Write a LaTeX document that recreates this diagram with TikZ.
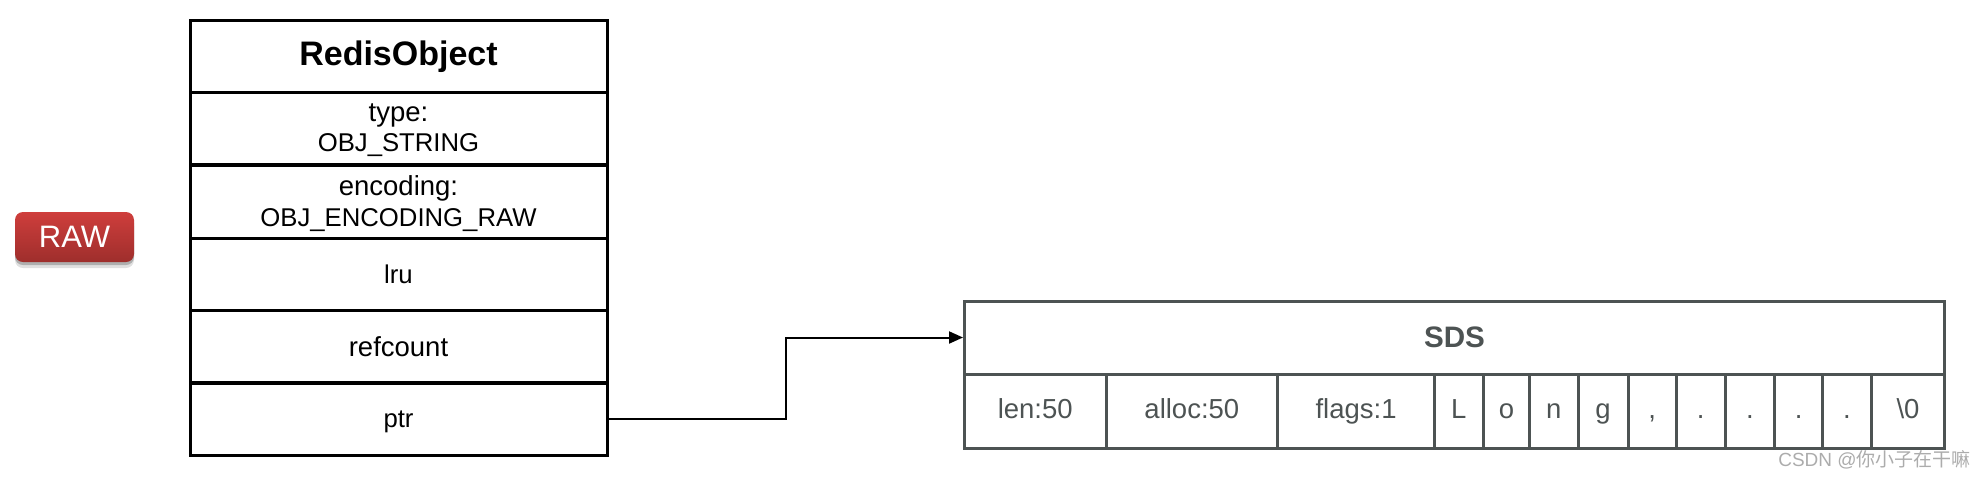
\documentclass[tikz,border=0pt]{standalone}
\usepackage{fontspec}
\setmainfont{Liberation Sans}
\newfontfamily\cjk{Noto Sans CJK SC}
\usetikzlibrary{arrows.meta,shadows}
\definecolor{sdscol}   {RGB}{77,83,83}
\definecolor{rawtopcol}{RGB}{207,62,60}
\definecolor{rawbotcol}{RGB}{158,46,44}
\definecolor{wmarkcol} {RGB}{172,172,172}
\newcommand{\lowfont}{\fontsize{27.5}{30.5}\selectfont}
\tikzset{
    rowbox/.style={draw=black, line width=3pt, minimum width=417pt, minimum height=72.6pt,
        inner sep=0pt, align=center, font=\fontsize{25.7}{30.5}\selectfont},
    cellbox/.style={draw=sdscol, line width=3pt, minimum height=74pt, inner sep=0pt,
        text=sdscol, text height=21pt, text depth=7pt, font=\fontsize{27.5}{30}\selectfont},
}

\begin{document}
\begin{tikzpicture}[x=1pt, y=-1pt]

\useasboundingbox (0,0) rectangle (1984,480);

% Encoding badge
\node[rounded corners=8pt, top color=rawtopcol, bottom color=rawbotcol, text=white,
    minimum width=119pt, minimum height=50pt, inner sep=0pt,
    font=\fontsize{31}{36}\selectfont,
    drop shadow={shadow xshift=0pt, shadow yshift=-6pt, opacity=0.12, fill=black},
    drop shadow={shadow xshift=0pt, shadow yshift=-3pt, opacity=0.22, fill=black}]
    (raw) at (74.5,237) {RAW};

% ================================================================
% REDISOBJECT --- left column
% ================================================================
\node[rowbox, font=\fontsize{34}{40}\selectfont\bfseries] (robjtitle) at (398.5,56.3) {RedisObject};
\node[rowbox, text depth=2pt] (robjtype) at (398.5,128.6) {{\lowfont type:}\\OBJ\_STRING};
\node[rowbox, text depth=2pt] (robjenc) at (398.5,201.8) {{\lowfont encoding:}\\OBJ\_ENCODING\_RAW};
\node[rowbox] (robjlru) at (398.5,274.3) {lru};
\node[rowbox, font=\lowfont] (robjref) at (398.5,346.3) {refcount};
\node[rowbox, text depth=0pt] (robjptr) at (398.5,419.3) {ptr};

% ================================================================
% SDS --- lower right
% ================================================================
\node[draw=sdscol, line width=3pt, minimum width=980pt, minimum height=73pt, inner sep=0pt,
    text=sdscol, font=\fontsize{29.6}{34}\selectfont\bfseries] (sdstitle) at (1454.5,337.5) {SDS};

\node[cellbox, minimum width=141.5pt] (sdslen) at (1035.25,411) {len:50};
\node[cellbox, minimum width=171.7pt] (sdsalloc) at (1191.85,411) {alloc:50};
\node[cellbox, minimum width=156.8pt] (sdsflags) at (1356.1,411) {flags:1};
\node[cellbox, minimum width=48.7pt] (sdsL) at (1458.85,411) {L};
\node[cellbox, minimum width=46.5pt] (sdso) at (1506.45,411) {o};
\node[cellbox, minimum width=48.3pt] (sdsn) at (1553.85,411) {n};
\node[cellbox, minimum width=50pt] (sdsg) at (1603,411) {g};
\node[cellbox, minimum width=48.5pt] (sdscomma) at (1652.25,411) {,};
\node[cellbox, minimum width=48.5pt] (sdsdota) at (1700.75,411) {.};
\node[cellbox, minimum width=49.7pt] (sdsdotb) at (1749.85,411) {.};
\node[cellbox, minimum width=47.8pt] (sdsdotc) at (1798.6,411) {.};
\node[cellbox, minimum width=48.9pt] (sdsdotd) at (1846.95,411) {.};
\node[cellbox, minimum width=73.1pt] (sdsnul) at (1907.95,411) {\textbackslash 0};

% Pointer
\coordinate (ptrbend) at (785.5,380);
\draw[-{Triangle[length=14pt, width=12pt]}, line width=2pt]
    (robjptr.east) -| (ptrbend) |- (sdstitle.west);

% Watermark
\node[text=wmarkcol, inner sep=0pt, font=\fontsize{19}{22}\selectfont] (wmark) at (1874.5,460)
    {CSDN @{\cjk 你小子在干嘛}};

\end{tikzpicture}
\end{document}
